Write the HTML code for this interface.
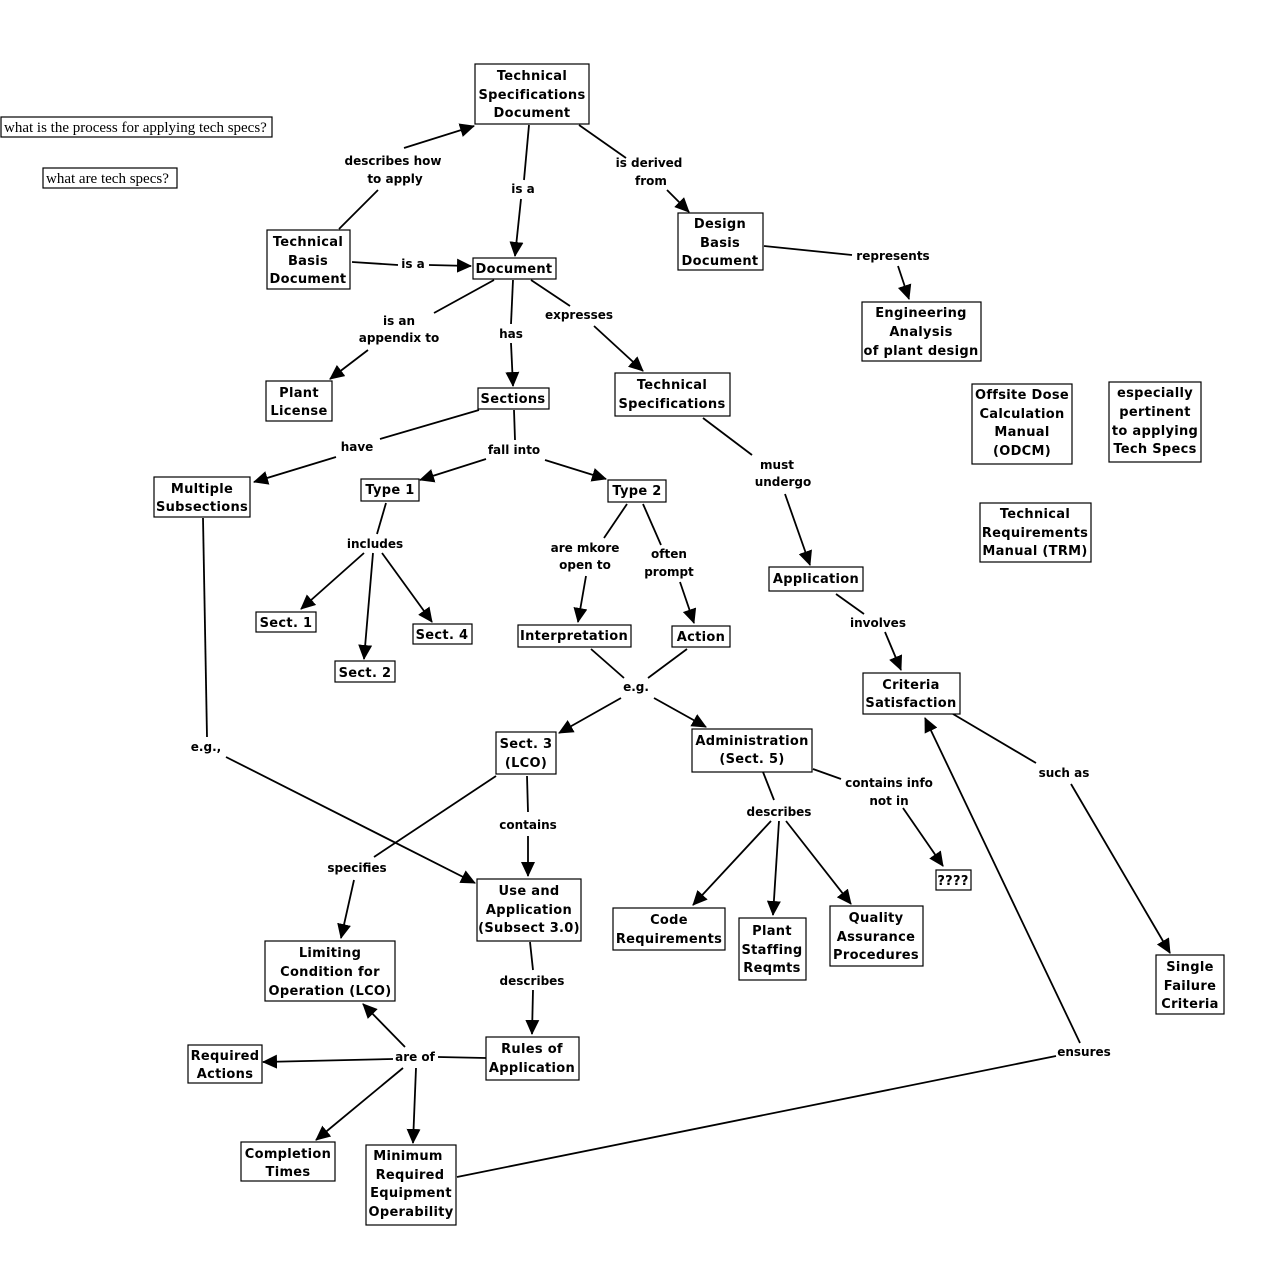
<!DOCTYPE html>
<html><head><meta charset="utf-8"><style>
html,body{margin:0;padding:0;background:#fff;}
svg{display:block;}
.n{font-family:"DejaVu Sans",sans-serif;font-weight:bold;font-size:13px;letter-spacing:0.3px;text-anchor:middle;fill:#000;}
.l{font-family:"DejaVu Sans",sans-serif;font-weight:bold;font-size:12px;text-anchor:middle;fill:#000;}
.q{font-family:"Liberation Serif",serif;font-size:15px;fill:#000;}
rect{fill:#fff;stroke:#000;stroke-width:1.2;}
line{stroke:#000;stroke-width:1.8;}
</style></head><body>
<svg width="1263" height="1265" viewBox="0 0 1263 1265" xmlns="http://www.w3.org/2000/svg">
<defs><marker id="a" markerUnits="userSpaceOnUse" markerWidth="16" markerHeight="14" refX="14" refY="7" orient="auto"><path d="M0,0 L15,7 L0,14 Z" fill="#000"/></marker></defs>
<g>
<line x1="339" y1="229" x2="378" y2="190"/><line x1="404" y1="148" x2="474" y2="126" marker-end="url(#a)"/>
<line x1="529" y1="125" x2="524" y2="180"/><line x1="521" y1="199" x2="515" y2="256" marker-end="url(#a)"/>
<line x1="579" y1="125" x2="626" y2="158"/><line x1="667" y1="190" x2="689" y2="212" marker-end="url(#a)"/>
<line x1="352" y1="262" x2="398" y2="265"/><line x1="429" y1="265" x2="471" y2="266" marker-end="url(#a)"/>
<line x1="764" y1="246" x2="852" y2="255"/><line x1="898" y1="266" x2="909" y2="299" marker-end="url(#a)"/>
<line x1="494" y1="280" x2="434" y2="313"/><line x1="368" y1="350" x2="330" y2="379" marker-end="url(#a)"/>
<line x1="513" y1="280" x2="511" y2="324"/><line x1="511" y1="343" x2="513" y2="386" marker-end="url(#a)"/>
<line x1="531" y1="280" x2="570" y2="306"/><line x1="594" y1="326" x2="643" y2="371" marker-end="url(#a)"/>
<line x1="479" y1="410" x2="380" y2="439"/><line x1="336" y1="457" x2="254" y2="482" marker-end="url(#a)"/>
<line x1="514" y1="410" x2="515" y2="440"/><line x1="486" y1="459" x2="420" y2="480" marker-end="url(#a)"/><line x1="545" y1="460" x2="606" y2="479" marker-end="url(#a)"/>
<line x1="703" y1="418" x2="752" y2="455"/><line x1="785" y1="494" x2="810" y2="565" marker-end="url(#a)"/>
<line x1="386" y1="503" x2="377" y2="534"/><line x1="364" y1="553" x2="301" y2="609" marker-end="url(#a)"/><line x1="373" y1="553" x2="364" y2="659" marker-end="url(#a)"/><line x1="382" y1="553" x2="432" y2="622" marker-end="url(#a)"/>
<line x1="627" y1="504" x2="604" y2="538"/><line x1="586" y1="576" x2="578" y2="622" marker-end="url(#a)"/>
<line x1="643" y1="504" x2="661" y2="545"/><line x1="680" y1="582" x2="694" y2="623" marker-end="url(#a)"/>
<line x1="836" y1="594" x2="864" y2="614"/><line x1="885" y1="632" x2="901" y2="670" marker-end="url(#a)"/>
<line x1="591" y1="649" x2="624" y2="678"/><line x1="687" y1="649" x2="648" y2="678"/>
<line x1="621" y1="698" x2="559" y2="733" marker-end="url(#a)"/><line x1="654" y1="698" x2="706" y2="727" marker-end="url(#a)"/>
<line x1="203" y1="518" x2="207" y2="737"/><line x1="226" y1="757" x2="475" y2="883" marker-end="url(#a)"/>
<line x1="953" y1="714" x2="1036" y2="763"/><line x1="1071" y1="784" x2="1170" y2="953" marker-end="url(#a)"/>
<line x1="813" y1="769" x2="841" y2="779"/><line x1="903" y1="808" x2="943" y2="866" marker-end="url(#a)"/>
<line x1="763" y1="772" x2="774" y2="800"/><line x1="771" y1="821" x2="693" y2="905" marker-end="url(#a)"/><line x1="779" y1="821" x2="773" y2="915" marker-end="url(#a)"/><line x1="786" y1="821" x2="851" y2="904" marker-end="url(#a)"/>
<line x1="527" y1="776" x2="528" y2="812"/><line x1="528" y1="836" x2="528" y2="876" marker-end="url(#a)"/>
<line x1="496" y1="776" x2="374" y2="857"/><line x1="354" y1="880" x2="341" y2="938" marker-end="url(#a)"/>
<line x1="530" y1="942" x2="533" y2="970"/><line x1="533" y1="990" x2="532" y2="1034" marker-end="url(#a)"/>
<line x1="486" y1="1058" x2="438" y2="1057"/>
<line x1="405" y1="1047" x2="363" y2="1004" marker-end="url(#a)"/><line x1="393" y1="1059" x2="263" y2="1062" marker-end="url(#a)"/><line x1="403" y1="1068" x2="316" y2="1140" marker-end="url(#a)"/><line x1="416" y1="1068" x2="413" y2="1143" marker-end="url(#a)"/>
<line x1="457" y1="1177" x2="1056" y2="1056"/><line x1="1080" y1="1043" x2="925" y2="718" marker-end="url(#a)"/>
</g>
<text class="l" x="393" y="165">describes how</text><text class="l" x="395" y="183">to apply</text>
<text class="l" x="523" y="193">is a</text>
<text class="l" x="649" y="167">is  derived</text><text class="l" x="651" y="185">from</text>
<text class="l" x="413" y="268">is a</text>
<text class="l" x="893" y="260">represents</text>
<text class="l" x="399" y="325">is an</text><text class="l" x="399" y="342">appendix to</text>
<text class="l" x="511" y="338">has</text>
<text class="l" x="579" y="319">expresses</text>
<text class="l" x="357" y="451">have</text>
<text class="l" x="514" y="454">fall into</text>
<text class="l" x="777" y="469">must</text><text class="l" x="783" y="486">undergo</text>
<text class="l" x="375" y="548">includes</text>
<text class="l" x="585" y="552">are mkore</text><text class="l" x="585" y="569">open to</text>
<text class="l" x="669" y="558">often</text><text class="l" x="669" y="576">prompt</text>
<text class="l" x="878" y="627">involves</text>
<text class="l" x="636" y="691">e.g.</text>
<text class="l" x="206" y="751">e.g.,</text>
<text class="l" x="1064" y="777">such as</text>
<text class="l" x="889" y="787">contains info</text><text class="l" x="889" y="805">not in</text>
<text class="l" x="779" y="816">describes</text>
<text class="l" x="528" y="829">contains</text>
<text class="l" x="357" y="872">specifies</text>
<text class="l" x="532" y="985">describes</text>
<text class="l" x="415" y="1061">are of</text>
<text class="l" x="1084" y="1056">ensures</text>
<rect x="1" y="117" width="271" height="20"/><text class="q" x="4" y="132">what is the process for applying tech specs?</text>
<rect x="43" y="168" width="134" height="20"/><text class="q" x="46" y="183">what are tech specs?</text>
<rect x="475" y="64" width="114" height="60"/><text class="n" x="532" y="80">Technical</text><text class="n" x="532" y="99">Specifications</text><text class="n" x="532" y="117">Document</text>
<rect x="267" y="230" width="83" height="59"/><text class="n" x="308" y="246">Technical</text><text class="n" x="308" y="265">Basis</text><text class="n" x="308" y="283">Document</text>
<rect x="473" y="258" width="83" height="21"/><text class="n" x="514" y="273">Document</text>
<rect x="678" y="213" width="85" height="57"/><text class="n" x="720" y="228">Design</text><text class="n" x="720" y="247">Basis</text><text class="n" x="720" y="265">Document</text>
<rect x="862" y="302" width="119" height="59"/><text class="n" x="921" y="317">Engineering</text><text class="n" x="921" y="336">Analysis</text><text class="n" x="921" y="355">of plant design</text>
<rect x="266" y="381" width="66" height="40"/><text class="n" x="299" y="397">Plant</text><text class="n" x="299" y="415">License</text>
<rect x="478" y="388" width="71" height="21"/><text class="n" x="513" y="403">Sections</text>
<rect x="615" y="373" width="115" height="43"/><text class="n" x="672" y="389">Technical</text><text class="n" x="672" y="408">Specifications</text>
<rect x="972" y="384" width="100" height="80"/><text class="n" x="1022" y="399">Offsite Dose</text><text class="n" x="1022" y="418">Calculation</text><text class="n" x="1022" y="436">Manual</text><text class="n" x="1022" y="455">(ODCM)</text>
<rect x="1109" y="382" width="92" height="80"/><text class="n" x="1155" y="397">especially</text><text class="n" x="1155" y="416">pertinent</text><text class="n" x="1155" y="435">to applying</text><text class="n" x="1155" y="453">Tech Specs</text>
<rect x="980" y="503" width="111" height="59"/><text class="n" x="1035" y="518">Technical</text><text class="n" x="1035" y="537">Requirements</text><text class="n" x="1035" y="555">Manual (TRM)</text>
<rect x="154" y="477" width="96" height="40"/><text class="n" x="202" y="493">Multiple</text><text class="n" x="202" y="511">Subsections</text>
<rect x="361" y="479" width="58" height="22"/><text class="n" x="390" y="494">Type 1</text>
<rect x="608" y="480" width="58" height="22"/><text class="n" x="637" y="495">Type 2</text>
<rect x="769" y="567" width="94" height="24"/><text class="n" x="816" y="583">Application</text>
<rect x="256" y="612" width="60" height="20"/><text class="n" x="286" y="627">Sect. 1</text>
<rect x="413" y="624" width="59" height="20"/><text class="n" x="442" y="639">Sect. 4</text>
<rect x="335" y="661" width="60" height="21"/><text class="n" x="365" y="677">Sect. 2</text>
<rect x="518" y="625" width="113" height="22"/><text class="n" x="574" y="640">Interpretation</text>
<rect x="672" y="626" width="58" height="21"/><text class="n" x="701" y="641">Action</text>
<rect x="863" y="673" width="97" height="41"/><text class="n" x="911" y="689">Criteria</text><text class="n" x="911" y="707">Satisfaction</text>
<rect x="496" y="732" width="60" height="42"/><text class="n" x="526" y="748">Sect. 3</text><text class="n" x="526" y="767">(LCO)</text>
<rect x="692" y="729" width="120" height="43"/><text class="n" x="752" y="745">Administration</text><text class="n" x="752" y="763">(Sect. 5)</text>
<rect x="936" y="870" width="35" height="20"/><text class="n" x="953" y="885">????</text>
<rect x="477" y="879" width="104" height="62"/><text class="n" x="529" y="895">Use and</text><text class="n" x="529" y="914">Application</text><text class="n" x="529" y="932">(Subsect 3.0)</text>
<rect x="613" y="908" width="112" height="42"/><text class="n" x="669" y="924">Code</text><text class="n" x="669" y="943">Requirements</text>
<rect x="739" y="918" width="67" height="62"/><text class="n" x="772" y="935">Plant</text><text class="n" x="772" y="954">Staffing</text><text class="n" x="772" y="972">Reqmts</text>
<rect x="830" y="906" width="93" height="60"/><text class="n" x="876" y="922">Quality</text><text class="n" x="876" y="941">Assurance</text><text class="n" x="876" y="959">Procedures</text>
<rect x="1156" y="955" width="68" height="59"/><text class="n" x="1190" y="971">Single</text><text class="n" x="1190" y="990">Failure</text><text class="n" x="1190" y="1008">Criteria</text>
<rect x="265" y="941" width="130" height="60"/><text class="n" x="330" y="957">Limiting</text><text class="n" x="330" y="976">Condition for</text><text class="n" x="330" y="995">Operation (LCO)</text>
<rect x="486" y="1037" width="93" height="43"/><text class="n" x="532" y="1053">Rules of</text><text class="n" x="532" y="1072">Application</text>
<rect x="188" y="1045" width="74" height="38"/><text class="n" x="225" y="1060">Required</text><text class="n" x="225" y="1078">Actions</text>
<rect x="241" y="1142" width="94" height="39"/><text class="n" x="288" y="1158">Completion</text><text class="n" x="288" y="1176">Times</text>
<rect x="366" y="1145" width="90" height="80"/><text class="n" x="408" y="1160">Minimum</text><text class="n" x="410" y="1179">Required</text><text class="n" x="411" y="1197">Equipment</text><text class="n" x="411" y="1216">Operability</text>
</svg>
</body></html>
